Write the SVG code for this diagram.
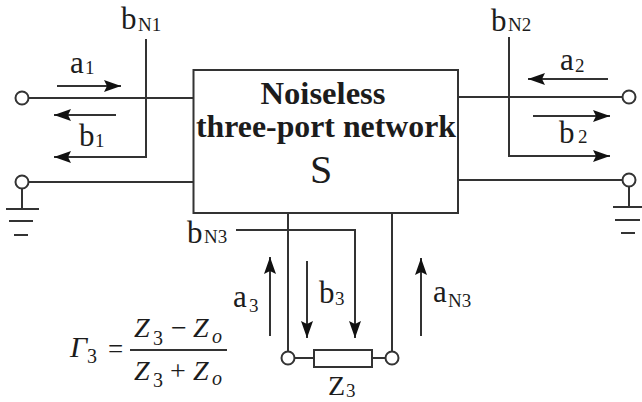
<svg xmlns="http://www.w3.org/2000/svg" width="642" height="402" viewBox="0 0 642 402">
<style>
text{font-family:"Liberation Serif","Times New Roman",serif;fill:#1c1c1c}
.m{font-size:31px}.s{font-size:19px}.z{font-size:28px;font-style:italic}.n{font-size:20px}.u{font-style:normal;font-size:28px}
.w{fill:none;stroke:#333;stroke-width:2}
.c{fill:#fff;stroke:#333;stroke-width:2}
</style>
<defs><marker id="a" markerUnits="userSpaceOnUse" markerWidth="17" markerHeight="12" refX="17" refY="6" orient="auto"><path d="M0 0L17 6L0 12L3 6Z" fill="#111"/></marker></defs>
<rect width="642" height="402" fill="#fff"/>
<g id="connectors">
<path class="w" d="M22 98H193M22 182H193M458 97H629M458 180H629M288 213V358M392 213V358M288 358H314M372 358H392"/>
<path class="w" d="M22 182V209M6 209H39M9 221H33M14 235H28M629 180V207M613 207H642M615 220H640M621 233H635"/>
<path class="w" marker-end="url(#a)" d="M146 39V157H54"/>
<path class="w" marker-end="url(#a)" d="M57 86H121"/>
<path class="w" marker-end="url(#a)" d="M116 115H54"/>
<path class="w" marker-end="url(#a)" d="M509 37V156H610"/>
<path class="w" marker-end="url(#a)" d="M608 79H528"/>
<path class="w" marker-end="url(#a)" d="M533 116H610"/>
<path class="w" marker-end="url(#a)" d="M236 230H355V338"/>
<path class="w" marker-end="url(#a)" d="M270 336V257"/>
<path class="w" marker-end="url(#a)" d="M307 261V338"/>
<path class="w" marker-end="url(#a)" d="M421 336V258"/>
</g>
<g id="network"><rect class="w" x="193.500" y="70" width="264.500" height="143"/>
<text x="323" y="104" text-anchor="middle" font-size="31" font-weight="bold" textLength="125" lengthAdjust="spacingAndGlyphs">Noiseless</text>
<text x="326" y="137" text-anchor="middle" font-size="31" font-weight="bold" textLength="260" lengthAdjust="spacingAndGlyphs">three-port network</text>
<text x="321" y="183" text-anchor="middle" font-size="40">S</text></g>
<g id="port1"><circle class="c" cx="22" cy="98" r="6.500"/><circle class="c" cx="22" cy="182" r="6.500"/></g>
<g id="port2"><circle class="c" cx="629" cy="97" r="6.500"/><circle class="c" cx="629" cy="180" r="6.500"/></g>
<g id="port3"><circle class="c" cx="288" cy="358" r="6.500"/><circle class="c" cx="392" cy="358" r="6.500"/></g>
<g id="z3"><rect class="c" x="314" y="350" width="58" height="17"/><text x="328" y="395" font-size="28">Z<tspan class="s" x="346" y="397">3</tspan></text></g>
<g id="labels">
<text x="121" y="29" class="m">b<tspan class="s" x="138" y="31">N1</tspan></text>
<text x="70" y="73" class="m">a<tspan class="s" x="85" y="74">1</tspan></text>
<text x="79" y="146" class="m">b<tspan class="s" x="95" y="147">1</tspan></text>
<text x="491" y="31" class="m">b<tspan class="s" x="508" y="31">N2</tspan></text>
<text x="560" y="70" class="m">a<tspan class="s" x="575" y="72">2</tspan></text>
<text x="559" y="143" class="m">b<tspan class="s" x="578" y="143">2</tspan></text>
<text x="187" y="243" class="m">b<tspan class="s" x="204" y="243">N3</tspan></text>
<text x="233" y="307" class="m">a<tspan class="s" x="249" y="312">3</tspan></text>
<text x="319" y="303" class="m">b<tspan class="s" x="335" y="305">3</tspan></text>
<text x="433" y="302" class="m">a<tspan class="s" x="448" y="307">N3</tspan></text>
</g>
<g id="formula">
<text x="70" y="357" font-size="30" font-style="italic">Γ<tspan class="n" font-style="normal" x="87" y="363">3</tspan></text>
<text x="108" y="358" font-size="27">=</text>
<path d="M130 350H227" stroke="#333" stroke-width="2"/>
<text x="134" y="337" class="z">Z<tspan class="n" font-style="normal" x="153" y="345">3</tspan><tspan class="u" x="171" y="337">−</tspan><tspan x="193" y="337">Z</tspan><tspan class="n" x="212" y="343">o</tspan></text>
<text x="134" y="380" class="z">Z<tspan class="n" font-style="normal" x="153" y="387">3</tspan><tspan class="u" x="170" y="380">+</tspan><tspan x="193" y="380">Z</tspan><tspan class="n" x="212" y="385">o</tspan></text>
</g>
</svg>
